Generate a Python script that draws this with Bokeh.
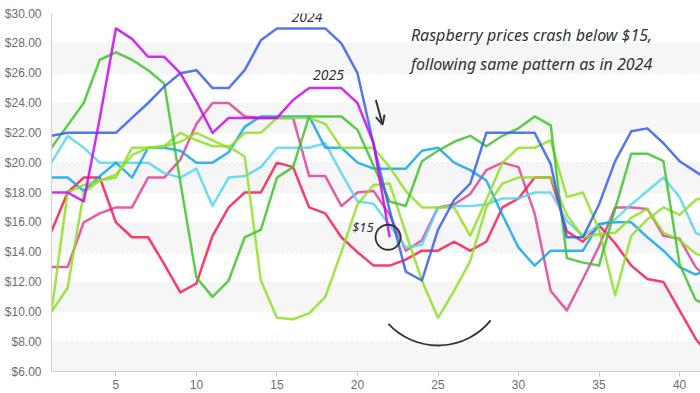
from bokeh.plotting import figure
from bokeh.models import (BoxAnnotation, Arrow, OpenHead, Label, NumeralTickFormatter,
                          FixedTicker)
from bokeh.embed import file_html
from bokeh.resources import INLINE
import math

weeks = list(range(1, 43))
weeks_2025 = list(range(1, 23))

price_2024 = [21.8, 22, 22, 22, 22, 23, 24, 25.1, 26, 26.2, 25, 25, 26.2, 28.2, 29, 29, 29, 29, 28, 26,
              21.2, 16.8, 12.7, 12.1, 15.5, 17.5, 18.6, 22, 22, 22, 22, 19.9, 15, 15, 17.2, 20.1, 22.1, 22.3,
              21.3, 20.1, 19.4, 18.7]
price_2025 = [18, 18, 17.4, 23, 29, 28.3, 27.1, 27.1, 26, 24.1, 22, 23, 23, 23, 23, 24.2, 25, 25, 25, 24,
              21.3, 15]
green = [21, 22.5, 24, 26.9, 27.4, 26.9, 26.2, 25.3, 18.7, 12.3, 11, 12.1, 15, 15.5, 19, 19.7, 23.1, 23.1,
         23.1, 22.2, 19.8, 17.4, 17.1, 20.1, 20.8, 21.4, 21.8, 21.1, 21.8, 22.3, 23.1, 22.5, 13.6, 13.3,
         13.1, 16.9, 20.6, 20.6, 20.1, 13.2, 10.8, 10.3]
cyan = [20, 21.8, 21, 20, 20, 20, 20, 19.3, 19, 19.6, 17.1, 19, 19.1, 19.7, 21, 21, 21, 21.3, 19.3, 17.4,
        17.25, 15.8, 14.3, 14.5, 17, 17.1, 17.1, 17.2, 17.6, 17.6, 18, 18, 16.1, 15.1, 15.8, 16.2, 17.2,
        18.1, 19, 17.7, 15.3, 14.8]
azure = [19, 19, 18.1, 19.1, 20, 19, 21, 21, 20.8, 20, 20, 20.7, 22.4, 23.1, 23.1, 23.1, 23.1, 21, 21, 20,
         19.6, 19.6, 19.6, 20.8, 21, 20, 19.5, 18.8, 16.5, 14.3, 13.1, 14.1, 14.1, 14.1, 15.9, 16, 16, 15,
         14.1, 13, 12.5, 12.9]
red = [15.4, 18, 19, 19, 16, 15, 15, 13.2, 11.3, 11.9, 15.1, 17, 18, 18, 20, 19.7, 17, 16.6, 15, 14,
       13.1, 13.1, 13.5, 14.1, 14.1, 14.7, 14.1, 14.7, 17, 17.6, 19, 19, 15.4, 14.7, 15.8, 14.6, 13.1,
       12.2, 12, 10.1, 8.2, 6.8]
pink = [13, 13, 16, 16.6, 17, 17, 19, 19, 20.2, 22.6, 24, 24, 23.1, 23, 23, 23, 19.1, 19.1, 17.1, 18,
        18.1, 16.5, 14.1, 14.8, 17, 17.2, 17.9, 19.5, 20, 19.7, 16.6, 11.4, 10.1, 12.2, 14.4, 17, 17,
        16.9, 15.1, 14.9, 13, 12]
lime_a = [10, 18, 18.5, 18.8, 19.2, 20.5, 21, 21.1, 21.4, 22, 21.5, 21, 22, 22, 23, 23, 23, 22.6, 21, 21,
          21, 19.7, 18.1, 17, 17, 17, 15.1, 17.5, 20, 21, 21, 21.5, 17.7, 18, 15.5, 11.1, 15.1, 16.2, 17,
          16.5, 17.5, 17.9]
lime_b = [10, 11.6, 18, 18.8, 19, 21, 21, 21.1, 22, 21.5, 21.1, 21.1, 20.4, 12.1, 9.6, 9.5, 9.9, 11, 14,
          17.2, 18.5, 18.6, 15.3, 12.1, 9.6, 11.4, 13.4, 17, 18.6, 19, 19, 19, 16.5, 15, 15.2, 15.3, 16.3,
          16.9, 15.3, 14.8, 13.9, 13.5]

y_ticks = list(range(6, 31, 2))
x_ticks = [5, 10, 15, 20, 25, 30, 35, 40]

p = figure(width=700, height=393, x_range=(1, 41.3), y_range=(6, 30),
           output_backend="svg", toolbar_location=None,
           min_border_left=51, min_border_right=0, min_border_top=13, min_border_bottom=22)
p.outline_line_color = None
p.background_fill_color = "white"
p.border_fill_color = "white"

for lo in range(6, 30, 4):
    p.add_layout(BoxAnnotation(bottom=lo, top=lo + 2, fill_color="#f6f6f6", fill_alpha=1.0,
                               line_color=None, level="underlay"))

p.xgrid.grid_line_color = None
p.ygrid.ticker = FixedTicker(ticks=y_ticks)
p.ygrid.grid_line_color = "#cfcfcf"
p.ygrid.grid_line_dash = "1 4"
p.ygrid.grid_line_width = 1

p.yaxis.ticker = FixedTicker(ticks=y_ticks)
p.yaxis.formatter = NumeralTickFormatter(format="$0.00")
p.yaxis.major_tick_out = 0
p.yaxis.major_tick_in = 0
p.yaxis.minor_tick_line_color = None
p.yaxis.axis_line_color = "#d0d0d0"
p.yaxis.major_label_standoff = 10
p.yaxis.major_label_text_font = "Liberation Sans"
p.yaxis.major_label_text_font_size = "12px"
p.yaxis.major_label_text_color = "#6e6e6e"

p.xaxis.ticker = FixedTicker(ticks=x_ticks)
p.xaxis.major_tick_out = 5
p.xaxis.major_tick_in = 0
p.xaxis.minor_tick_line_color = None
p.xaxis.major_tick_line_color = "#c8c8c8"
p.xaxis.axis_line_color = "#d0d0d0"
p.xaxis.major_label_standoff = 3
p.xaxis.major_label_text_font = "Liberation Sans"
p.xaxis.major_label_text_font_size = "12px"
p.xaxis.major_label_text_color = "#6e6e6e"

series = [
    (pink, "#e0409a"),
    (red, "#f81a50"),
    (cyan, "#55d6f0"),
    (azure, "#0fa6ec"),
    (lime_b, "#8ee026"),
    (lime_a, "#8ee026"),
    (green, "#3ec42a"),
    (price_2024, "#3a5ee6"),
]
for vals, col in series:
    p.line(weeks, vals, line_color=col, line_width=2.5, line_alpha=0.85, line_join="round")
p.line(weeks_2025, price_2025, line_color="#c808f0", line_width=2.5, line_alpha=0.85, line_join="round")

hand = "Noto Sans"
ink = "#333333"
p.add_layout(Label(x=16.86, y=29.77, text="2024", text_align="center", text_baseline="middle",
                   text_font=hand, text_font_style="italic", text_font_size="14px", text_color=ink))
p.add_layout(Label(x=18.2, y=25.86, text="2025", text_align="center", text_baseline="middle",
                   text_font=hand, text_font_style="italic", text_font_size="14px", text_color=ink))
p.add_layout(Label(x=23.32, y=28.54, text="Raspberry prices crash below $15,", text_align="left",
                   text_baseline="middle", text_font=hand, text_font_style="italic",
                   text_font_size="16px", text_color=ink))
p.add_layout(Label(x=23.32, y=26.64, text="following same pattern as in 2024", text_align="left",
                   text_baseline="middle", text_font=hand, text_font_style="italic",
                   text_font_size="16px", text_color=ink))
p.add_layout(Label(x=20.34, y=15.67, text="$15", text_align="center", text_baseline="middle",
                   text_font=hand, text_font_style="italic", text_font_size="13px", text_color=ink))

p.add_layout(Arrow(x_start=21.14, y_start=24.2, x_end=21.56, y_end=22.55,
                   end=OpenHead(size=9, line_width=2, line_color=ink),
                   line_color=ink, line_width=2))
p.scatter(x=[21.9], y=[15.0], size=25, fill_color=None, line_color=ink, line_width=1.8)
p.arc(x=[25.0], y=[12.29], radius=67.8, radius_units="screen",
      start_angle=math.radians(-137), end_angle=math.radians(-39),
      line_color=ink, line_width=1.8)

open("out.html", "w").write(file_html(p, INLINE))
